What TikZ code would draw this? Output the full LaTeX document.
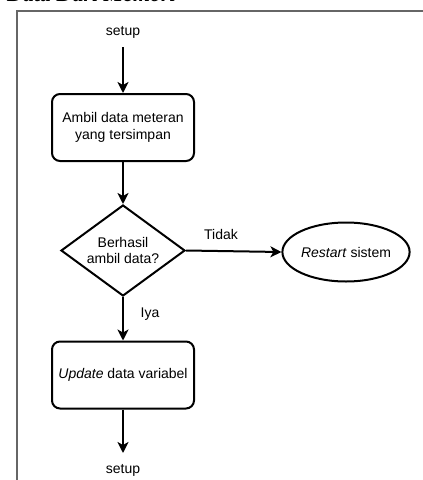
\documentclass[tikz,border=0pt]{standalone}
\usepackage{fontspec}
\setmainfont{Liberation Sans}
\newfontfamily\headfont{Liberation Serif}
\usetikzlibrary{shapes.geometric,arrows.meta}

\tikzset{
  every node/.style={font=\fontsize{14}{16.5}\selectfont, align=center, inner sep=0pt},
  procbox/.style={draw, line width=2pt, rounded corners=8pt, minimum width=142pt, minimum height=67pt},
  decision/.style={draw, line width=2pt, diamond, minimum width=124pt, minimum height=91pt, aspect=1.36},
  terminal/.style={draw, line width=2pt, ellipse, minimum width=119pt, minimum height=59pt},
  flow/.style={line width=2pt, -{Stealth[length=11pt, width=11pt, inset=3pt]}},
  plain/.style={}
}

\begin{document}
\begin{tikzpicture}[x=1pt, y=-1pt]
  \useasboundingbox (0,0) rectangle (423,480);

  % heading of the page, cut off at the top edge
  \node[anchor=base east, font=\headfont\bfseries\itshape\fontsize{22}{24}\selectfont] (head) at (176,1) {Data Dari Memori};

  % frame around the flowchart
  \draw[line width=1.3pt, draw=black!60] (17,500) -- (17,11) -- (440,11);

  \node[plain] (start) at (123,32) {setup};
  \node[procbox] (load) at (123,127.5) {Ambil data meteran\\yang tersimpan};
  \node[decision] (check) at (123,250.5) {Berhasil\\ambil data?};
  \node[terminal] (restart) at (346,252) {\textit{Restart} sistem};
  \node[procbox] (update) at (123,375) {\textit{Update} data variabel};
  \coordinate (endtip) at (123,453);
  \node[plain] (finish) at (123,470) {setup};
  \node[plain] (no) at (221,234) {Tidak};
  \node[plain] (yes) at (150,314) {Iya};

  \draw[flow] (123,47) -- (load.north);
  \draw[flow] (load) -- (check);
  \draw[flow] (check.east) -- (restart.west);
  \draw[flow] (check.south) -- (update.north);
  \draw[flow] (update.south) -- (endtip);
\end{tikzpicture}
\end{document}
